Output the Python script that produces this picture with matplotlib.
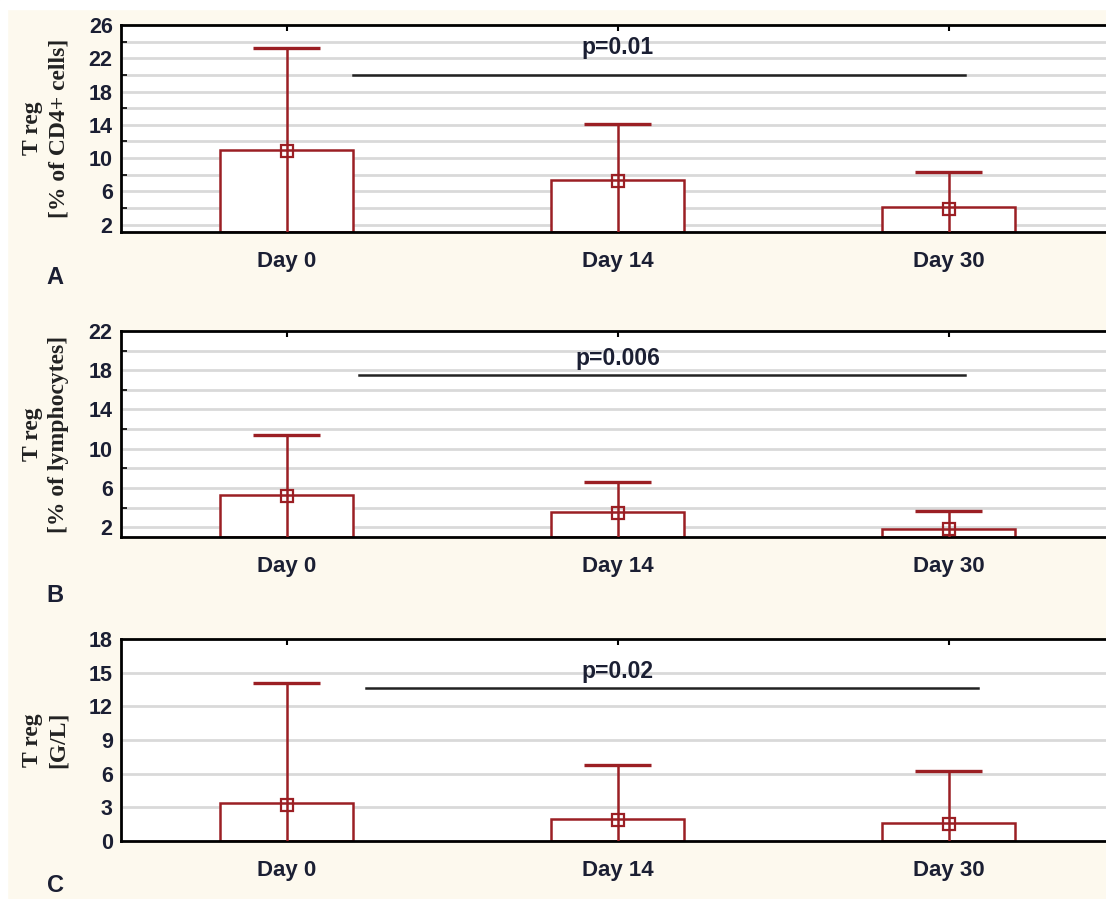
import numpy as np, matplotlib; matplotlib.use("Agg"); import matplotlib.pyplot as plt
from matplotlib.patches import Rectangle

days = ["Day 0", "Day 14", "Day 30"]
# panel A: % of CD4+ cells
a_bar = [11.0, 7.3, 4.1]; a_mark = [10.9, 7.2, 3.9]; a_top = [23.2, 14.1, 8.3]
# panel B: % of lymphocytes
b_bar = [5.3, 3.5, 1.8]; b_mark = [5.2, 3.4, 1.8]; b_top = [11.4, 6.6, 3.6]
# panel C: G/L
c_bar = [3.4, 2.0, 1.6]; c_mark = [3.2, 1.9, 1.5]; c_top = [14.1, 6.8, 6.2]
p_texts = ["p=0.01", "p=0.006", "p=0.02"]
p_lines = [20.0, 17.5, 13.6]
p_ypos = [23.3, 19.2, 15.1]
p_x = [(0.2, 2.05), (0.22, 2.05), (0.24, 2.09)]
ylabels = ["T reg\n[% of CD4+ cells]", "T reg\n[% of lymphocytes]", "T reg\n[G/L]"]
letters = ["A", "B", "C"]

RED = "#9b1f24"; TXT = "#1b1f33"; CREAM = "#fdf9ee"
W, H = 1106, 899
fig = plt.figure(figsize=(W/100, H/100), dpi=100, facecolor=CREAM)
fig.patches.append(Rectangle((0, 1-9/H), 1, 9/H, transform=fig.transFigure, color="white", zorder=-5))
fig.patches.append(Rectangle((0, 0), 7/W, 1, transform=fig.transFigure, color="white", zorder=-5))

# axes boxes in pixels: (top, bottom), ylim, ticks, grid step
panels = [
    dict(top=25, bot=232, ylim=(1.1, 26), ticks=np.arange(2, 27, 4), grid=np.arange(2, 26, 2),
         bar=a_bar, mark=a_mark, err=a_top),
    dict(top=331, bot=537, ylim=(1.0, 22), ticks=np.arange(2, 23, 4), grid=np.arange(2, 22, 2),
         bar=b_bar, mark=b_mark, err=b_top),
    dict(top=639, bot=841, ylim=(0, 18), ticks=np.arange(0, 19, 3), grid=np.arange(3, 18, 3),
         bar=c_bar, mark=c_mark, err=c_top),
]
left, right = 121, 1114
x = np.arange(3)
for i, p in enumerate(panels):
    ax = fig.add_axes([left/W, 1-p["bot"]/H, (right-left)/W, (p["bot"]-p["top"])/H])
    ax.set_xlim(-0.5, 2.5); ax.set_ylim(*p["ylim"])
    for g in p["grid"]:
        ax.axhline(g, color="#d9d9d9", lw=2, zorder=0)
    ax.bar(x, np.array(p["bar"]) - p["ylim"][0], bottom=p["ylim"][0], width=0.4,
           facecolor="white", edgecolor=RED, lw=1.8, zorder=2)
    ax.vlines(x, p["ylim"][0], p["err"], color=RED, lw=1.8, zorder=3)
    ax.hlines(p["err"], x-0.1, x+0.1, color=RED, lw=2.4, zorder=3)
    ax.plot(x, p["mark"], "s", ms=8, mfc="none", mec=RED, mew=1.6, zorder=4)
    x0, x1 = p_x[i]
    ax.plot([x0, x1], [p_lines[i]]*2, color="#222222", lw=1.8, zorder=3)
    ax.text(1.0, p_ypos[i], p_texts[i], ha="center", va="center", fontsize=16.5,
            fontweight="bold", color=TXT, family="Liberation Sans")
    ax.set_yticks(p["ticks"])
    ax.set_yticks(p["grid"], minor=True)
    ax.set_yticklabels([str(int(t)) for t in p["ticks"]], fontsize=15.5, color=TXT,
                       family="Liberation Sans", fontweight="bold")
    ax.set_xticks(x)
    ax.set_xticklabels(days, fontsize=16, fontweight="bold", color=TXT, family="Liberation Sans")
    ax.tick_params(axis="x", top=True, bottom=False, direction="in", length=4, width=1.5, pad=14)
    ax.tick_params(axis="y", which="major", length=0, pad=6)
    ax.tick_params(axis="y", which="minor", direction="in", length=4, width=1.2)
    for s in ["left", "bottom", "top"]:
        ax.spines[s].set_linewidth(2)
    ax.spines["right"].set_visible(False)
    ax.set_ylabel(ylabels[i], fontsize=17, fontweight="bold", family="Liberation Serif",
                  color="#222222", linespacing=1.3)
    ax.yaxis.set_label_coords(-52/(right-left), 0.5)
    ax.set_facecolor("white")

for ly, lt in zip([277, 595, 885], letters):
    fig.text(55/W, 1-ly/H, lt, ha="center", va="center", fontsize=17, fontweight="bold",
             color=TXT, family="Liberation Sans")

plt.savefig("out.png", dpi=100, facecolor=CREAM)
